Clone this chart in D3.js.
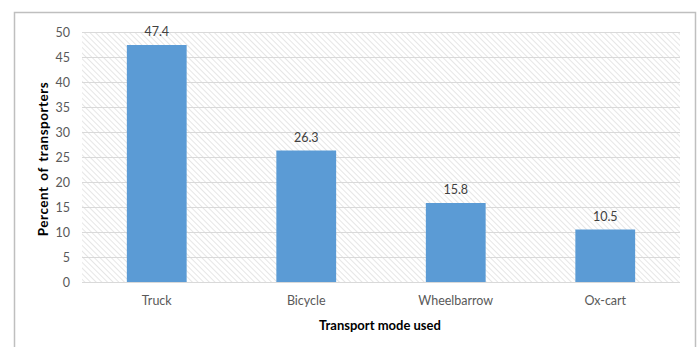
<!DOCTYPE html>
<html>
<head>
<meta charset="utf-8">
<script src="https://cdn.jsdelivr.net/npm/d3@7"></script>
<style>
  html, body { margin: 0; padding: 0; background: #fff; }
  svg { display: block; font-family: Lato, "Open Sans", "Liberation Sans", sans-serif; }
</style>
</head>
<body>
<svg id="chart" width="697" height="347"></svg>
<script>
// Share of transporters by transport mode
const categories = ["Truck", "Bicycle", "Wheelbarrow", "Ox-cart"];
const percentValues = [47.4, 26.3, 15.8, 10.5];
const yTickValues = [0, 5, 10, 15, 20, 25, 30, 35, 40, 45, 50];

const svg = d3.select("#chart");
const plot = { left: 82, right: 680, top: 32, bottom: 282 };

// outer chart frame
svg.append("rect")
  .attr("x", 14.5).attr("y", 12.5)
  .attr("width", 681).attr("height", 345)
  .attr("fill", "#fff").attr("stroke", "#bfbfbf").attr("stroke-width", 1.5);

// diagonal hatch for the plot background
const defs = svg.append("defs");
const pat = defs.append("pattern")
  .attr("id", "hatch")
  .attr("patternUnits", "userSpaceOnUse")
  .attr("width", 4).attr("height", 4)
  .attr("patternTransform", "rotate(-45)");
pat.append("rect").attr("width", 4).attr("height", 4).attr("fill", "#ffffff");
pat.append("line")
  .attr("x1", 0).attr("y1", 0).attr("x2", 0).attr("y2", 4)
  .attr("stroke", "#d9d9d9").attr("stroke-width", 1.3);

const x = d3.scaleBand()
  .domain(categories)
  .range([plot.left, plot.right])
  .paddingInner(0.6).paddingOuter(0.3);

const y = d3.scaleLinear()
  .domain([0, 50])
  .range([plot.bottom, plot.top]);

svg.append("rect")
  .attr("x", plot.left).attr("y", plot.top)
  .attr("width", plot.right - plot.left).attr("height", plot.bottom - plot.top)
  .attr("fill", "url(#hatch)");

// horizontal gridlines
svg.append("g")
  .selectAll("line")
  .data(yTickValues)
  .join("line")
  .attr("x1", plot.left).attr("x2", plot.right)
  .attr("y1", d => Math.round(y(d)) + 0.5).attr("y2", d => Math.round(y(d)) + 0.5)
  .attr("stroke", "#d9d9d9").attr("stroke-width", 1);

// y axis tick labels
const yAxis = d3.axisLeft(y).tickValues(yTickValues).tickSize(0).tickPadding(12);
const gy = svg.append("g").attr("transform", `translate(${plot.left},0)`).call(yAxis);
gy.select(".domain").remove();
gy.selectAll("text")
  .attr("fill", "#595959").attr("font-size", 12.5)
  .style("font-family", "Lato, 'Open Sans', sans-serif");

// bars
svg.append("g")
  .selectAll("rect")
  .data(categories)
  .join("rect")
  .attr("x", d => x(d))
  .attr("width", x.bandwidth())
  .attr("y", (d, i) => y(percentValues[i]))
  .attr("height", (d, i) => y(0) - y(percentValues[i]))
  .attr("fill", "#5b9bd5");

// baseline
svg.append("line")
  .attr("x1", plot.left).attr("x2", plot.right)
  .attr("y1", plot.bottom + 0.5).attr("y2", plot.bottom + 0.5)
  .attr("stroke", "#d9d9d9").attr("stroke-width", 1);

// value labels
svg.append("g")
  .selectAll("text")
  .data(categories)
  .join("text")
  .attr("x", d => x(d) + x.bandwidth() / 2)
  .attr("y", (d, i) => y(percentValues[i]) - 9)
  .attr("text-anchor", "middle")
  .attr("fill", "#404040").attr("font-size", 12.5)
  .text((d, i) => percentValues[i].toFixed(1));

// x axis category labels
const xAxis = d3.axisBottom(x).tickSize(0).tickPadding(14);
const gx = svg.append("g").attr("transform", `translate(0,${plot.bottom})`).call(xAxis);
gx.select(".domain").remove();
gx.selectAll("text")
  .attr("fill", "#595959").attr("font-size", 12.5)
  .style("font-family", "Lato, 'Open Sans', sans-serif");

// axis titles
svg.append("text")
  .attr("x", 380).attr("y", 330)
  .attr("text-anchor", "middle")
  .attr("font-weight", "bold").attr("font-size", 13).attr("fill", "#000")
  .text("Transport mode used");

svg.append("text")
  .attr("transform", `translate(48,159) rotate(-90)`)
  .attr("text-anchor", "middle")
  .attr("font-weight", "bold").attr("font-size", 13.5).attr("fill", "#000")
  .attr("letter-spacing", 0.5).attr("word-spacing", 2)
  .text("Percent of transporters");
</script>
</body>
</html>
